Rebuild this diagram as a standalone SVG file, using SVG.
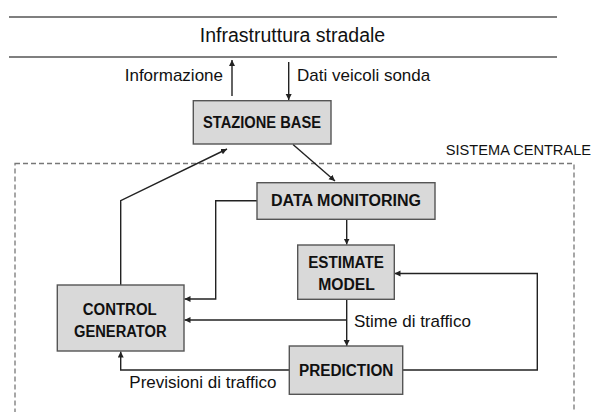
<svg xmlns="http://www.w3.org/2000/svg" width="595" height="412" viewBox="0 0 595 412">
<defs>
<style>
.box{fill:#d9d9d9;stroke:#555;stroke-width:1.4}
.bt{font-family:"Liberation Sans",Arial,sans-serif;font-weight:bold;font-size:15.6px;fill:#111;text-anchor:middle}
.lb{font-family:"Liberation Sans",Arial,sans-serif;font-size:17px;fill:#111}
.rule{stroke:#555;stroke-width:1.4}
.con{fill:none;stroke:#222;stroke-width:1.4;marker-end:url(#ah)}
</style>
<marker id="ah" markerUnits="userSpaceOnUse" markerWidth="7" markerHeight="7" refX="6" refY="3" orient="auto">
<path d="M0,0 L6,3 L0,6 z" fill="#222"/>
</marker>
</defs>
<rect width="595" height="412" fill="#fff"/>
<g id="infrastruttura">
<line class="rule" x1="9" y1="17" x2="557" y2="17"/>
<line class="rule" x1="9" y1="57" x2="557" y2="57"/>
<text class="lb" x="292.5" y="41.5" text-anchor="middle" style="font-size:19.5px">Infrastruttura stradale</text>
</g>
<g id="sistema-centrale">
<rect x="15" y="163.5" width="559" height="270" fill="none" stroke="#777" stroke-width="1.3" stroke-dasharray="5 3"/>
<text class="lb" x="591" y="155" text-anchor="end" style="font-size:14.6px">SISTEMA CENTRALE</text>
</g>
<g id="connectors">
<line class="con" x1="232" y1="96" x2="232" y2="60"/>
<line class="con" x1="288.7" y1="62" x2="288.7" y2="100"/>
<text class="lb" x="223" y="81" text-anchor="end">Informazione</text>
<text class="lb" x="297" y="81">Dati veicoli sonda</text>
<line class="con" x1="293" y1="144.5" x2="335" y2="181"/>
<polyline class="con" points="120.7,285 120.7,200.7 227,149"/>
<line class="con" x1="346.7" y1="219.5" x2="346.7" y2="244.5"/>
<polyline class="con" points="257,200.7 215.7,200.7 215.7,299 184.5,299"/>
<line class="con" x1="346.7" y1="299.5" x2="346.7" y2="346"/>
<line class="con" x1="346.7" y1="320" x2="184.5" y2="320"/>
<text class="lb" x="354" y="327.3">Stime di traffico</text>
<polyline class="con" points="402.7,370 537.3,370 537.3,273.5 394.5,273.5"/>
<polyline class="con" points="289.3,370 120.7,370 120.7,351.5"/>
<text class="lb" x="129.3" y="388.3">Previsioni di traffico</text>
</g>
<g id="stazione-base">
<rect class="box" x="193.3" y="100.7" width="137.7" height="43.3"/>
<text class="bt" x="262" y="127.7" textLength="118" lengthAdjust="spacingAndGlyphs">STAZIONE BASE</text>
</g>
<g id="data-monitoring">
<rect class="box" x="257" y="182.7" width="178" height="36.6"/>
<text class="bt" x="346" y="206" textLength="150" lengthAdjust="spacingAndGlyphs">DATA MONITORING</text>
</g>
<g id="estimate-model">
<rect class="box" x="297.7" y="245" width="96.6" height="54.3"/>
<text class="bt" x="346" y="267.7" textLength="75.7" lengthAdjust="spacingAndGlyphs">ESTIMATE</text>
<text class="bt" x="346.5" y="290" textLength="56.7" lengthAdjust="spacingAndGlyphs">MODEL</text>
</g>
<g id="control-generator">
<rect class="box" x="57.3" y="285" width="126.7" height="66"/>
<text class="bt" x="119.7" y="315" textLength="74" lengthAdjust="spacingAndGlyphs">CONTROL</text>
<text class="bt" x="120.3" y="336.7" textLength="92.7" lengthAdjust="spacingAndGlyphs">GENERATOR</text>
</g>
<g id="prediction">
<rect class="box" x="289.3" y="346" width="113.4" height="48.3"/>
<text class="bt" x="346.2" y="376" textLength="94.3" lengthAdjust="spacingAndGlyphs">PREDICTION</text>
</g>
</svg>
